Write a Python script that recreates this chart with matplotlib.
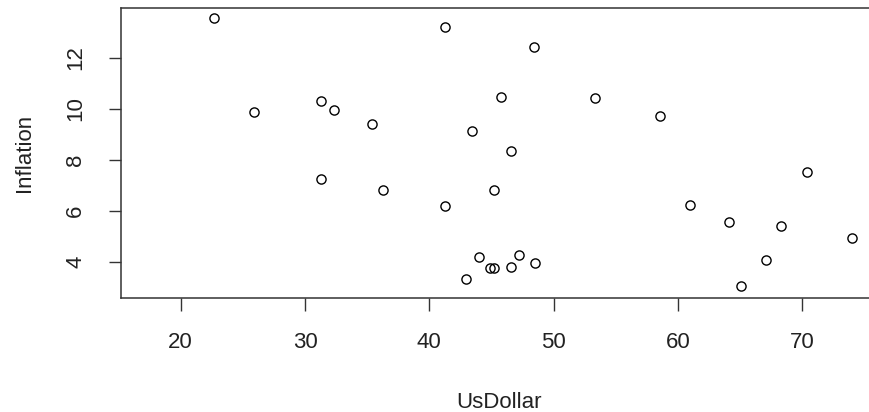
import matplotlib
matplotlib.use("Agg")
import matplotlib.pyplot as plt

# Exchange rate vs. inflation observations
us_dollar = [22.66, 41.26, 25.90, 31.32, 32.34, 35.38, 43.43, 31.32, 36.29, 41.26,
             44.02, 44.85, 45.22, 42.95, 45.20, 48.42, 45.73, 53.33, 58.53, 46.57,
             70.40, 60.93, 64.07, 68.31, 73.99, 47.18, 46.57, 48.53, 67.10, 65.09]
inflation = [13.54, 13.19, 9.89, 10.30, 9.95, 9.42, 9.13, 7.24, 6.82, 6.18,
             4.20, 3.78, 3.78, 3.36, 6.83, 12.41, 10.47, 10.42, 9.71, 8.36,
             7.54, 6.25, 5.59, 5.41, 4.96, 4.30, 3.83, 3.95, 4.08, 3.06]

x_ticks = [20, 30, 40, 50, 60, 70]
y_ticks = [4, 6, 8, 10, 12]

W, H = 869, 412
fig = plt.figure(figsize=(W / 100, H / 100), dpi=100)
plt.rcParams['font.family'] = ['Liberation Sans', 'DejaVu Sans']

left, right, top, bottom = 121, 877, 7.5, 297.5
ax = fig.add_axes([left / W, 1 - bottom / H, (right - left) / W, (bottom - top) / H])

ax.plot(us_dollar, inflation, linestyle='none', marker='o', markersize=6.6,
        markerfacecolor='none', markeredgecolor='black', markeredgewidth=1.0)

ax.set_xlim(15.2, 76.0)
ax.set_ylim(2.62, 13.96)
ax.set_xticks(x_ticks)
ax.set_yticks(y_ticks)
ax.set_xticklabels([str(v) for v in x_ticks])
ax.set_yticklabels([str(v) for v in y_ticks], rotation=90, va='center')

for s in ax.spines.values():
    s.set_linewidth(1.1)
    s.set_color('#333333')

ax.tick_params(axis='both', length=9, width=1.0, color='#333333',
               labelsize=16, labelcolor='#222222')
ax.tick_params(axis='x', pad=16)
ax.tick_params(axis='y', pad=16)

ax.set_xlabel('UsDollar', fontsize=16, color='#222222', labelpad=28)
ax.set_ylabel('Inflation', fontsize=16, color='#222222', labelpad=22)

fig.savefig('out.png', dpi=100)
